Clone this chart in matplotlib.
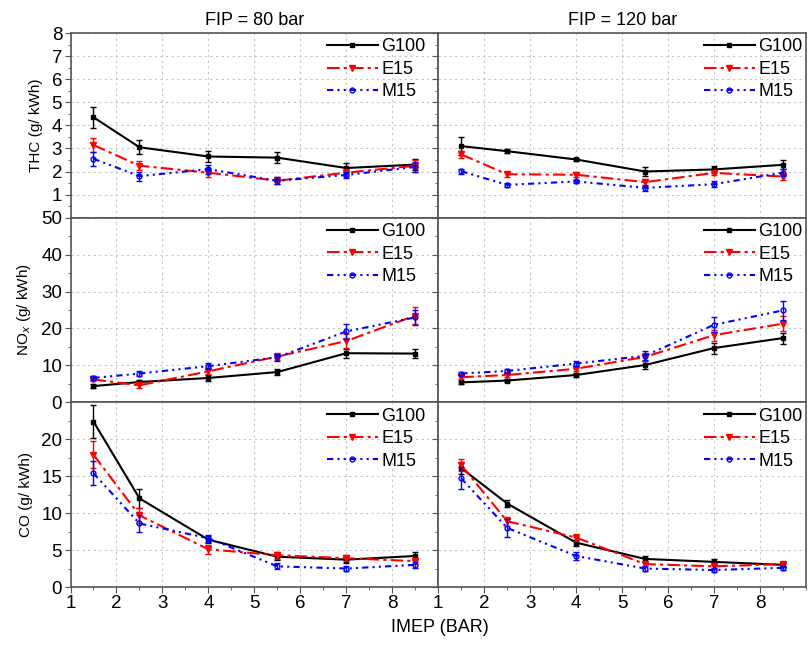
import matplotlib
matplotlib.use("Agg")
import matplotlib.pyplot as plt
from matplotlib.ticker import MultipleLocator

plt.rcParams["font.family"] = ["Liberation Sans", "DejaVu Sans"]

IMEP = [1.5, 2.5, 4.0, 5.5, 7.0, 8.5]
FUELS = ["G100", "E15", "M15"]
FIP_TITLES = ["FIP = 80 bar", "FIP = 120 bar"]

# THC (g/kWh)
thc_80 = {
    "G100": [4.35, 3.05, 2.65, 2.6, 2.15, 2.3],
    "E15": [3.15, 2.25, 1.95, 1.6, 1.95, 2.25],
    "M15": [2.55, 1.8, 2.1, 1.6, 1.85, 2.2],
}
thc_80_err = {
    "G100": [0.45, 0.3, 0.25, 0.25, 0.2, 0.25],
    "E15": [0.3, 0.2, 0.2, 0.15, 0.15, 0.25],
    "M15": [0.3, 0.2, 0.2, 0.15, 0.15, 0.2],
}
thc_120 = {
    "G100": [3.1, 2.88, 2.52, 2.0, 2.09, 2.29],
    "E15": [2.74, 1.88, 1.86, 1.54, 1.94, 1.78],
    "M15": [2.01, 1.42, 1.57, 1.29, 1.45, 1.95],
}
thc_120_err = {
    "G100": [0.4, 0.1, 0.07, 0.2, 0.15, 0.2],
    "E15": [0.15, 0.1, 0.1, 0.15, 0.1, 0.15],
    "M15": [0.1, 0.08, 0.08, 0.12, 0.12, 0.15],
}

# NOx (g/kWh)
nox_80 = {
    "G100": [4.4, 5.5, 6.6, 8.2, 13.3, 13.2],
    "E15": [6.2, 4.6, 8.4, 12.4, 16.6, 23.5],
    "M15": [6.6, 7.8, 9.8, 12.2, 19.2, 23.0],
}
nox_80_err = {
    "G100": [0.6, 0.6, 0.7, 0.8, 1.2, 1.3],
    "E15": [0.5, 0.8, 0.8, 1.0, 2.0, 2.3],
    "M15": [0.6, 0.6, 0.8, 1.0, 2.0, 2.0],
}
nox_120 = {
    "G100": [5.4, 5.9, 7.4, 10.1, 14.7, 17.4],
    "E15": [6.8, 7.4, 9.1, 12.3, 18.2, 21.3],
    "M15": [7.8, 8.5, 10.5, 12.6, 21.0, 24.9],
}
nox_120_err = {
    "G100": [0.5, 0.5, 0.5, 1.0, 1.5, 1.5],
    "E15": [0.5, 0.5, 0.6, 1.0, 1.5, 2.0],
    "M15": [0.5, 0.5, 0.6, 1.2, 2.0, 2.5],
}

# CO (g/kWh)
co_80 = {
    "G100": [22.4, 12.0, 6.4, 4.1, 3.7, 4.2],
    "E15": [17.9, 9.7, 5.1, 4.3, 3.9, 3.5],
    "M15": [15.4, 8.6, 6.6, 2.8, 2.5, 3.0],
}
co_80_err = {
    "G100": [2.2, 1.3, 0.5, 0.4, 0.5, 0.5],
    "E15": [1.8, 1.0, 0.6, 0.5, 0.4, 0.4],
    "M15": [1.6, 1.1, 0.5, 0.4, 0.3, 0.4],
}
co_120 = {
    "G100": [16.1, 11.3, 6.0, 3.8, 3.4, 3.0],
    "E15": [16.5, 8.9, 6.7, 3.1, 2.8, 3.1],
    "M15": [14.7, 8.0, 4.2, 2.5, 2.3, 2.6],
}
co_120_err = {
    "G100": [0.8, 0.5, 0.4, 0.4, 0.4, 0.3],
    "E15": [0.8, 0.6, 0.5, 0.3, 0.3, 0.3],
    "M15": [1.5, 1.2, 0.6, 0.3, 0.3, 0.3],
}

ROWS = [
    ("THC (g/ kWh)", (0, 8), list(range(1, 9)), 0.5, [(thc_80, thc_80_err), (thc_120, thc_120_err)]),
    ("NO$_x$ (g/ kWh)", (0, 50), list(range(0, 51, 10)), 5, [(nox_80, nox_80_err), (nox_120, nox_120_err)]),
    ("CO (g/ kWh)", (0, 25), list(range(0, 21, 5)), 2.5, [(co_80, co_80_err), (co_120, co_120_err)]),
]

STYLES = {
    "G100": dict(color="black", linestyle="-", marker="s", markersize=2.5, mfc="black"),
    "E15": dict(color="red", linestyle=(0, (6, 2, 1.5, 2)), marker="v", markersize=4.5, mfc="red"),
    "M15": dict(color="blue", linestyle=(0, (3, 2, 1, 2, 1, 2)), marker="o", markersize=3.5, mfc="none"),
}

fig = plt.figure(figsize=(8.08, 6.48), dpi=100)
gs = fig.add_gridspec(3, 2, left=70.5 / 808, right=806 / 808, top=1 - 33 / 648,
                      bottom=1 - 587 / 648, hspace=0, wspace=0)
spine_col = "#555555"
legend_x = [0.975, 1.0]

for r, (ylabel, ylim, yticks, yminor, panels) in enumerate(ROWS):
    for c, (vals, errs) in enumerate(panels):
        ax = fig.add_subplot(gs[r, c])
        handles = []
        for fuel in FUELS:
            st = STYLES[fuel]
            ax.errorbar(IMEP, vals[fuel], yerr=errs[fuel], fmt="none", ecolor=st["color"],
                        elinewidth=1.0, capsize=2.5, capthick=1.0)
            line, = ax.plot(IMEP, vals[fuel], color=st["color"], linestyle=st["linestyle"],
                            marker=st["marker"], markersize=st["markersize"], mfc=st["mfc"],
                            mec=st["color"], linewidth=1.5, label=fuel)
            handles.append(line)
        ax.set_xlim(1, 9)
        ax.set_ylim(*ylim)
        ax.set_xticks(range(1, 9))
        ax.set_yticks(yticks)
        ax.xaxis.set_minor_locator(MultipleLocator(0.5))
        ax.yaxis.set_minor_locator(MultipleLocator(yminor))
        ax.grid(True, which="major", linestyle=(0, (2, 3)), color="#c4c4c4", linewidth=0.8)
        for sp in ax.spines.values():
            sp.set_color(spine_col)
            sp.set_linewidth(1.2)
        ax.tick_params(which="major", direction="out", length=4, color=spine_col,
                       labelsize=13.5, pad=2)
        ax.tick_params(which="minor", direction="out", length=2, color=spine_col)
        if c == 0:
            ax.set_ylabel(ylabel, fontsize=11, labelpad=6)
        else:
            ax.tick_params(axis="y", which="both", labelleft=False)
        if r < 2:
            ax.tick_params(axis="x", which="both", labelbottom=False, length=0)
        ax.legend(handles=handles, loc="upper right", bbox_to_anchor=(legend_x[c], 0.99),
                  frameon=False, fontsize=13, handlelength=2.8, handletextpad=0.2,
                  labelspacing=0.3, borderaxespad=0.0, borderpad=0.2)
        if r == 0:
            ax.set_title(FIP_TITLES[c], fontsize=13, pad=6)

fig.text(0.545, 0.018, "IMEP (BAR)", ha="center", va="bottom", fontsize=13)
fig.savefig("out.png", dpi=100)
